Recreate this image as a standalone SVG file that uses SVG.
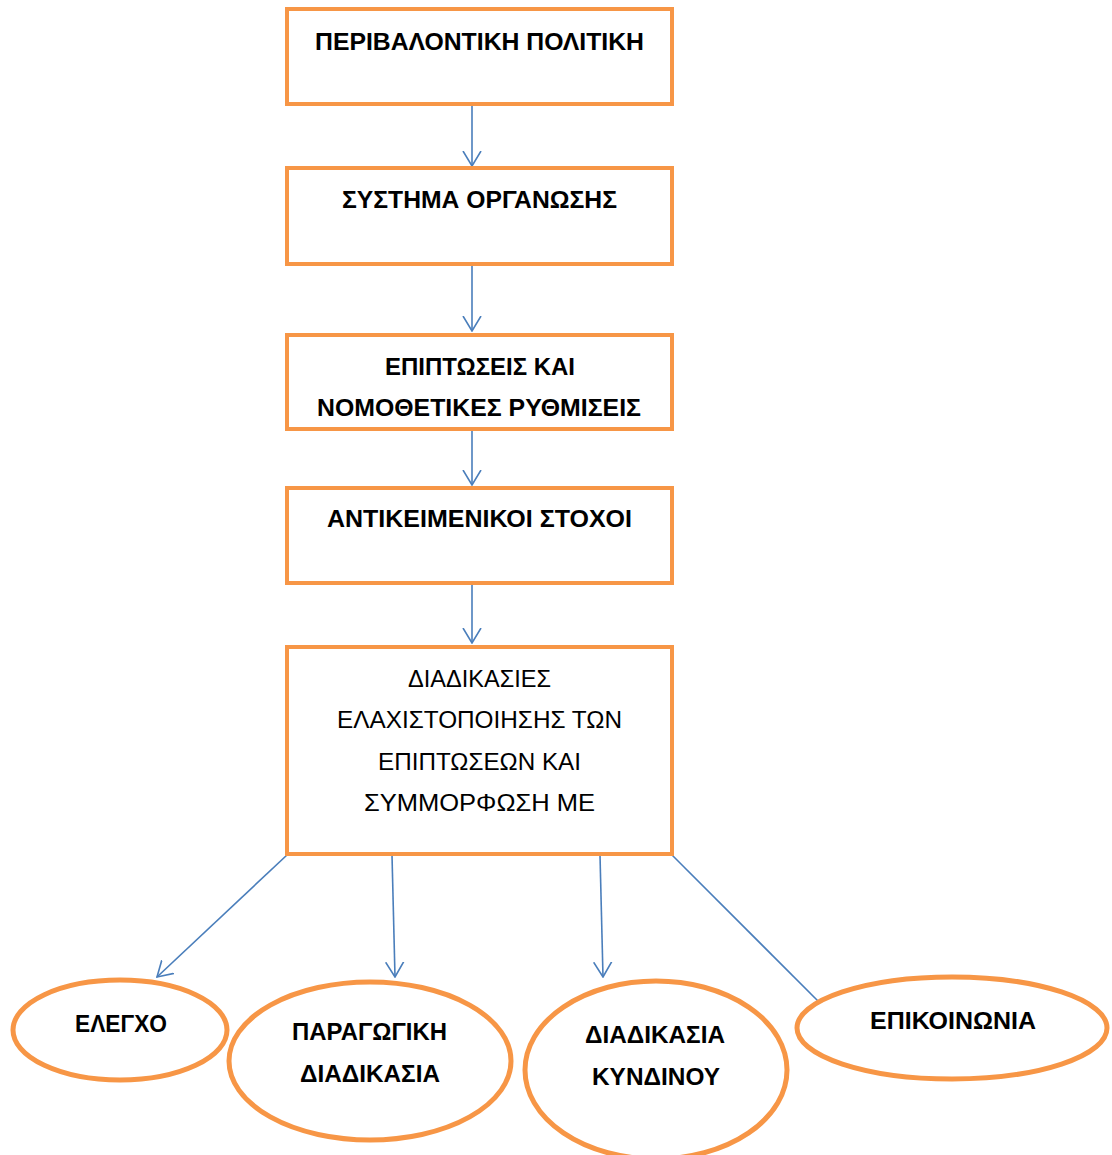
<svg xmlns="http://www.w3.org/2000/svg" width="1112" height="1155" viewBox="0 0 1112 1155">
<style>
.box{fill:#fff;stroke:#F79646;stroke-width:4}
.ell{fill:#fff;stroke:#F79646;stroke-width:5}
.con{stroke:#4A7EBB;stroke-width:1.6;fill:none}
.b{font-family:"Liberation Sans",Arial,sans-serif;font-weight:bold;font-size:23px;fill:#000}
.r{font-family:"Liberation Sans",Arial,sans-serif;font-size:24px;fill:#000}
</style>
<defs>
<marker id="arr" markerUnits="userSpaceOnUse" viewBox="0 0 16 20" refX="15" refY="10" markerWidth="16" markerHeight="20" orient="auto">
<path d="M0,1 L15,10 L0,19" fill="none" stroke="#4A7EBB" stroke-width="1.6"/>
</marker>
</defs>
<rect width="1112" height="1155" fill="#fff"/>
<g id="connectors">
<line class="con" x1="472" y1="104" x2="472" y2="166" marker-end="url(#arr)"/>
<line class="con" x1="472" y1="264" x2="472" y2="331" marker-end="url(#arr)"/>
<line class="con" x1="472" y1="429" x2="472" y2="485" marker-end="url(#arr)"/>
<line class="con" x1="472" y1="583" x2="472" y2="643" marker-end="url(#arr)"/>
<line class="con" x1="287" y1="855" x2="157" y2="977" marker-end="url(#arr)"/>
<line class="con" x1="392" y1="855" x2="395" y2="977" marker-end="url(#arr)"/>
<line class="con" x1="600" y1="855" x2="603" y2="977" marker-end="url(#arr)"/>
<line class="con" x1="672" y1="855" x2="820" y2="1003"/>
</g>
<g id="n1"><rect class="box" x="287" y="9" width="385" height="95"/><text class="b" x="479.5" y="50" text-anchor="middle" textLength="329" lengthAdjust="spacingAndGlyphs">ΠΕΡΙΒΑΛΟΝΤΙΚΗ ΠΟΛΙΤΙΚΗ</text></g>
<g id="n2"><rect class="box" x="287" y="168" width="385" height="96"/><text class="b" x="479.5" y="208" text-anchor="middle" textLength="275" lengthAdjust="spacingAndGlyphs">ΣΥΣΤΗΜΑ ΟΡΓΑΝΩΣΗΣ</text></g>
<g id="n3"><rect class="box" x="287" y="335" width="385" height="94"/><text class="b" x="480" y="375" text-anchor="middle" textLength="190" lengthAdjust="spacingAndGlyphs">ΕΠΙΠΤΩΣΕΙΣ ΚΑΙ</text><text class="b" x="479" y="416" text-anchor="middle" textLength="324" lengthAdjust="spacingAndGlyphs">ΝΟΜΟΘΕΤΙΚΕΣ ΡΥΘΜΙΣΕΙΣ</text></g>
<g id="n4"><rect class="box" x="287" y="488" width="385" height="95"/><text class="b" x="479.5" y="527" text-anchor="middle" textLength="305" lengthAdjust="spacingAndGlyphs">ΑΝΤΙΚΕΙΜΕΝΙΚΟΙ ΣΤΟΧΟΙ</text></g>
<g id="n5"><rect class="box" x="287" y="647" width="385" height="207"/>
<text class="r" x="479.5" y="687" text-anchor="middle" textLength="143" lengthAdjust="spacingAndGlyphs">ΔΙΑΔΙΚΑΣΙΕΣ</text>
<text class="r" x="479.5" y="728" text-anchor="middle" textLength="285" lengthAdjust="spacingAndGlyphs">ΕΛΑΧΙΣΤΟΠΟΙΗΣΗΣ ΤΩΝ</text>
<text class="r" x="479.5" y="770" text-anchor="middle" textLength="203" lengthAdjust="spacingAndGlyphs">ΕΠΙΠΤΩΣΕΩΝ ΚΑΙ</text>
<text class="r" x="479.5" y="811" text-anchor="middle" textLength="231" lengthAdjust="spacingAndGlyphs">ΣΥΜΜΟΡΦΩΣΗ ΜΕ</text></g>
<g id="e1"><ellipse class="ell" cx="120" cy="1030" rx="107" ry="50"/><text class="b" x="121" y="1032" text-anchor="middle" textLength="92" lengthAdjust="spacingAndGlyphs">ΕΛΕΓΧΟ</text></g>
<g id="e2"><ellipse class="ell" cx="370" cy="1061" rx="141" ry="79"/><text class="b" x="369.5" y="1040" text-anchor="middle" textLength="155" lengthAdjust="spacingAndGlyphs">ΠΑΡΑΓΩΓΙΚΗ</text><text class="b" x="370" y="1082" text-anchor="middle" textLength="140" lengthAdjust="spacingAndGlyphs">ΔΙΑΔΙΚΑΣΙΑ</text></g>
<g id="e3"><ellipse class="ell" cx="656" cy="1070" rx="131" ry="89"/><text class="b" x="655" y="1043" text-anchor="middle" textLength="140" lengthAdjust="spacingAndGlyphs">ΔΙΑΔΙΚΑΣΙΑ</text><text class="b" x="656" y="1085" text-anchor="middle" textLength="128" lengthAdjust="spacingAndGlyphs">ΚΥΝΔΙΝΟΥ</text></g>
<g id="e4"><ellipse class="ell" cx="952" cy="1028" rx="155" ry="51"/><text class="b" x="953" y="1029" text-anchor="middle" textLength="166" lengthAdjust="spacingAndGlyphs">ΕΠΙΚΟΙΝΩΝΙΑ</text></g>
</svg>
